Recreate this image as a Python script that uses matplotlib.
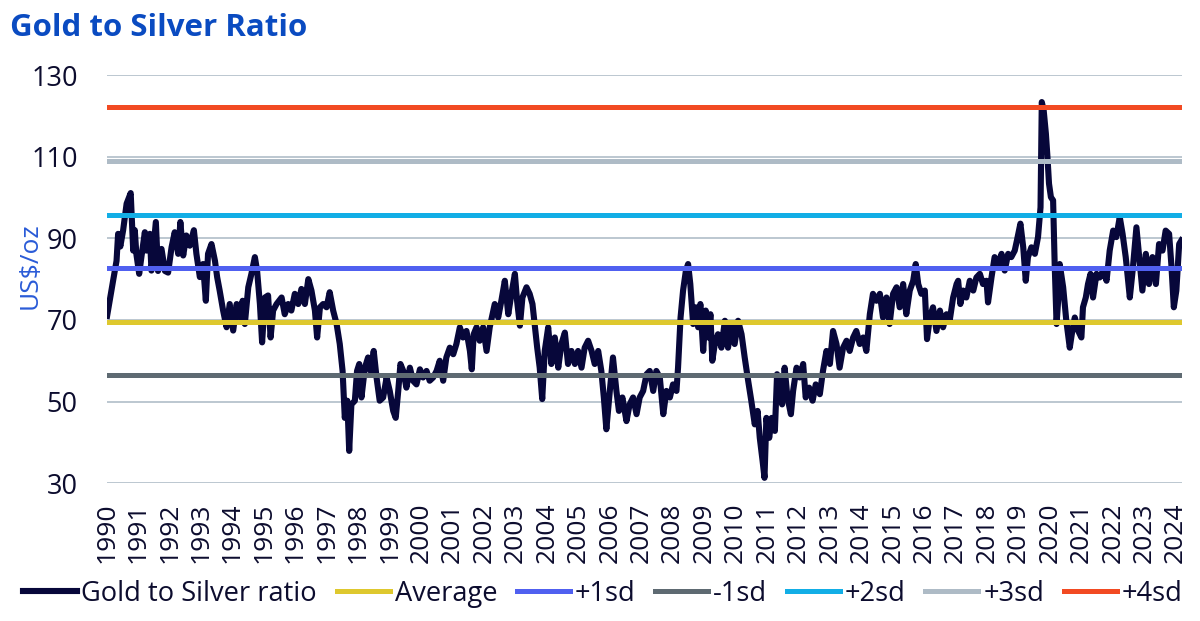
import matplotlib.pyplot as plt

plt.rcParams["font.family"] = ["Open Sans", "DejaVu Sans"]

# weekly-ish readings of the gold/silver ratio, decimal year on the chart's axis
years = [
    1990.01, 1990.10, 1990.20, 1990.31, 1990.36, 1990.43, 1990.52, 1990.63, 1990.76, 1990.84, 1990.89, 1990.94,
    1991.03, 1991.10, 1991.21, 1991.26, 1991.37, 1991.42, 1991.56, 1991.63, 1991.74, 1991.85, 1991.95,
    1992.06, 1992.16, 1992.27, 1992.34, 1992.43, 1992.53, 1992.64, 1992.77, 1992.85, 1992.96,
    1993.06, 1993.15, 1993.22, 1993.33, 1993.44, 1993.51, 1993.59, 1993.70, 1993.81, 1993.91,
    1994.02, 1994.13, 1994.23, 1994.32, 1994.39, 1994.50, 1994.60, 1994.71, 1994.78, 1994.87, 1994.94,
    1995.03, 1995.13, 1995.21, 1995.29, 1995.40, 1995.56, 1995.66, 1995.77, 1995.87, 1995.98,
    1996.09, 1996.19, 1996.30, 1996.41, 1996.51, 1996.62, 1996.69, 1996.78, 1996.88, 1996.99,
    1997.09, 1997.20, 1997.31, 1997.41, 1997.50, 1997.57, 1997.65, 1997.71, 1997.78, 1997.89, 1997.96,
    1998.03, 1998.10, 1998.21, 1998.31, 1998.39, 1998.49, 1998.58, 1998.68, 1998.79, 1998.90,
    1999.00, 1999.11, 1999.19, 1999.27, 1999.34, 1999.43, 1999.53, 1999.64, 1999.74, 1999.85, 1999.96,
    2000.06, 2000.17, 2000.27, 2000.38, 2000.49, 2000.59, 2000.70, 2000.80, 2000.91,
    2001.02, 2001.12, 2001.23, 2001.33, 2001.44, 2001.55, 2001.61, 2001.67, 2001.76, 2001.86, 2001.97,
    2002.08, 2002.18, 2002.27, 2002.34, 2002.45, 2002.55, 2002.66, 2002.77, 2002.87, 2002.98,
    2003.05, 2003.14, 2003.22, 2003.35, 2003.45, 2003.54, 2003.61, 2003.69, 2003.77, 2003.85, 2003.93,
    2004.04, 2004.14, 2004.25, 2004.36, 2004.46, 2004.57, 2004.67, 2004.78, 2004.89, 2004.99,
    2005.10, 2005.20, 2005.31, 2005.42, 2005.52, 2005.63, 2005.73, 2005.81, 2005.89,
    2006.00, 2006.10, 2006.21, 2006.29, 2006.40, 2006.53, 2006.63, 2006.74, 2006.85, 2006.95,
    2007.06, 2007.17, 2007.27, 2007.38, 2007.48, 2007.59, 2007.70, 2007.80, 2007.91,
    2008.01, 2008.12, 2008.17, 2008.25, 2008.33, 2008.42, 2008.49, 2008.56, 2008.65, 2008.73, 2008.81, 2008.88, 2008.97,
    2009.05, 2009.13, 2009.20, 2009.26, 2009.34, 2009.44, 2009.55, 2009.66, 2009.76, 2009.87, 2009.97,
    2010.08, 2010.19, 2010.29, 2010.40, 2010.50, 2010.61, 2010.70, 2010.77, 2010.86, 2010.92, 2010.98,
    2011.07, 2011.15, 2011.25, 2011.32, 2011.41, 2011.48, 2011.56, 2011.65, 2011.76, 2011.83, 2011.94,
    2012.04, 2012.15, 2012.23, 2012.34, 2012.45, 2012.55, 2012.68, 2012.78, 2012.89,
    2013.00, 2013.10, 2013.21, 2013.31, 2013.42, 2013.53, 2013.63, 2013.74, 2013.84, 2013.95,
    2014.06, 2014.16, 2014.27, 2014.37, 2014.48, 2014.59, 2014.69, 2014.80, 2014.90,
    2015.01, 2015.12, 2015.22, 2015.33, 2015.43, 2015.54, 2015.65, 2015.73, 2015.81, 2015.91,
    2016.02, 2016.09, 2016.18, 2016.28, 2016.39, 2016.50, 2016.60, 2016.71, 2016.81, 2016.92,
    2017.03, 2017.08, 2017.15, 2017.24, 2017.34, 2017.45, 2017.56, 2017.66, 2017.77, 2017.87, 2017.98,
    2018.03, 2018.14, 2018.24, 2018.35, 2018.46, 2018.56, 2018.67, 2018.77, 2018.88, 2018.95,
    2019.06, 2019.15, 2019.23, 2019.30, 2019.41, 2019.52, 2019.62, 2019.70, 2019.74, 2019.80, 2019.87, 2019.92, 2019.97,
    2020.03, 2020.10, 2020.15, 2020.21, 2020.26, 2020.31, 2020.42, 2020.52, 2020.63, 2020.71, 2020.79, 2020.90,
    2021.00, 2021.05, 2021.14, 2021.21, 2021.29, 2021.37, 2021.48, 2021.58, 2021.69, 2021.80, 2021.90,
    2022.01, 2022.11, 2022.22, 2022.31, 2022.41, 2022.54, 2022.63, 2022.75, 2022.84, 2022.94,
    2023.05, 2023.15, 2023.26, 2023.37, 2023.47, 2023.58, 2023.68, 2023.79, 2023.86, 2023.94,
    2024.02, 2024.11, 2024.18,
]
ratio = [
    71.0, 75.0, 79.6, 84.5, 91.1, 88.0, 92.0, 98.5, 101.1, 87.0, 92.0, 86.2,
    81.3, 85.4, 91.5, 87.0, 91.1, 82.1, 94.0, 82.0, 87.4, 82.0, 81.6,
    87.8, 91.5, 86.2, 94.0, 85.8, 90.7, 88.2, 92.0, 86.2, 80.5,
    83.7, 74.7, 86.2, 88.6, 84.5, 80.5, 77.2, 72.3, 68.2, 73.9,
    67.4, 73.9, 70.6, 74.7, 69.0, 78.0, 81.3, 85.4, 82.1, 73.9, 64.5,
    75.5, 76.0, 65.7, 72.3, 73.9, 75.5, 71.4, 73.9, 72.3, 76.4,
    73.9, 77.6, 73.9, 80.0, 77.2, 72.3, 65.7, 73.1, 73.9, 73.1,
    76.8, 72.3, 69.0, 64.1, 57.5, 46.0, 50.2, 37.9, 49.3, 50.2, 57.5,
    59.2, 51.0, 58.3, 60.8, 57.5, 62.4, 55.9, 50.2, 51.0, 55.9,
    52.6, 47.7, 46.0, 52.6, 59.2, 57.5, 53.4, 58.3, 55.1, 54.2, 57.9,
    55.9, 57.5, 55.1, 55.9, 57.5, 60.0, 55.1, 60.8, 63.2,
    61.6, 64.1, 68.2, 65.7, 67.3, 62.4, 57.9, 66.5, 68.2, 64.9, 68.2,
    62.4, 68.2, 71.4, 73.9, 70.6, 74.7, 79.6, 71.4, 76.4, 81.3,
    74.7, 68.6, 75.5, 78.0, 76.4, 73.9, 69.0, 63.2, 58.3, 50.6, 62.4,
    68.2, 59.2, 65.7, 58.3, 64.1, 66.9, 59.2, 62.4, 59.2, 62.4,
    58.3, 63.2, 64.9, 62.4, 59.2, 62.4, 57.5, 51.0, 43.2,
    52.6, 60.8, 52.6, 47.7, 51.0, 45.2, 49.3, 51.0, 46.9, 51.0,
    52.6, 56.7, 57.5, 52.6, 57.5, 55.9, 46.9, 52.6, 51.0,
    54.2, 52.6, 58.3, 70.6, 77.2, 82.1, 83.7, 78.8, 69.0, 73.1, 68.2, 73.9, 62.4,
    72.3, 65.7, 71.4, 60.0, 64.1, 66.5, 63.2, 69.8, 63.2, 69.0, 64.1,
    69.8, 66.5, 60.8, 55.1, 50.2, 44.4, 47.7, 41.1, 35.4, 31.3, 46.0,
    41.1, 46.0, 42.8, 56.7, 54.2, 49.3, 58.3, 51.0, 46.9, 52.6, 58.3,
    55.9, 59.2, 51.0, 53.4, 50.2, 54.2, 51.8, 57.5, 62.4,
    59.2, 67.3, 64.1, 58.3, 63.2, 64.9, 62.4, 65.7, 67.3, 64.1,
    65.7, 62.4, 71.4, 76.4, 74.7, 76.4, 70.6, 75.5, 69.0,
    76.4, 78.0, 73.1, 78.8, 71.4, 77.2, 79.6, 83.7, 78.8, 76.4,
    77.2, 65.3, 70.6, 73.1, 67.3, 72.3, 68.2, 71.4, 69.8, 75.5,
    78.8, 79.6, 73.9, 77.2, 75.5, 79.6, 77.2, 80.4, 81.3, 78.8, 79.6,
    74.3, 80.4, 85.4, 83.7, 86.2, 82.1, 86.2, 85.4, 87.0, 89.5,
    93.6, 87.8, 79.6, 85.4, 87.8, 86.2, 90.3, 97.6, 123.4, 121.4, 115.7, 110.0, 103.4,
    100.1, 99.3, 83.7, 69.0, 74.7, 83.7, 78.0, 69.8, 63.2, 67.3, 70.6, 67.3,
    65.7, 73.1, 75.5, 78.8, 81.3, 75.5, 81.3, 80.4, 82.1, 79.6, 87.0,
    91.9, 90.3, 95.2, 91.1, 85.4, 75.5, 82.1, 92.7, 85.4, 77.2,
    86.2, 78.8, 85.4, 78.8, 88.6, 87.0, 91.9, 91.1, 83.7, 73.1,
    77.2, 88.6, 89.5,
]

band_labels = ["Average", "+1sd", "-1sd", "+2sd", "+3sd", "+4sd"]
band_values = [69.6, 82.7, 56.4, 95.8, 108.9, 122.1]
band_colors = ["#DEC82E", "#5060F0", "#5E6A72", "#12AEE6", "#AEBBC6", "#F24A22"]

tick_years = list(range(1990, 2025))
y_ticks = [30, 50, 70, 90, 110, 130]

text_col = "#0C0C2E"

fig = plt.figure(figsize=(12, 6.21), dpi=100)
ax = fig.add_axes([0.089, 0.222, 0.896, 0.657])

ax.plot(years, ratio, color="#07073A", lw=4.4, solid_joinstyle="round",
        zorder=2, label="Gold to Silver ratio")
for lab, val, col in zip(band_labels, band_values, band_colors):
    ax.axhline(val, color=col, lw=3.6, zorder=3, label=lab)

ax.set_ylim(30, 130)
ax.set_yticks(y_ticks)
ax.set_xlim(1990, 2024.2)
ax.set_xticks(tick_years)
ax.set_xticklabels([str(y) for y in tick_years], rotation=90)
ax.grid(axis="y", color="#BCC7D0", lw=1.4)
ax.set_axisbelow(True)
for s in ax.spines.values():
    s.set_visible(False)
ax.tick_params(axis="y", length=0, pad=21, labelsize=19.5, colors=text_col)
ax.tick_params(axis="x", length=0, pad=14, labelsize=19, colors=text_col)

fig.text(10 / 1200, 1 - 28 / 621, "Gold to Silver Ratio", fontsize=22.5,
         fontweight="bold", color="#0A4BC1", ha="left", va="center")
fig.text(30 / 1200, 1 - 266 / 621, r"US\$/oz", rotation=90, fontsize=19,
         color="#2A5BD7", ha="center", va="center")

fig.legend(loc="center", bbox_to_anchor=(0.5025, 1 - 594 / 621), ncol=7,
           frameon=False, fontsize=19.6, handlelength=1.95, handletextpad=0.18,
           columnspacing=0.72, labelcolor=text_col, borderpad=0)

fig.savefig("out.png", dpi=100)
